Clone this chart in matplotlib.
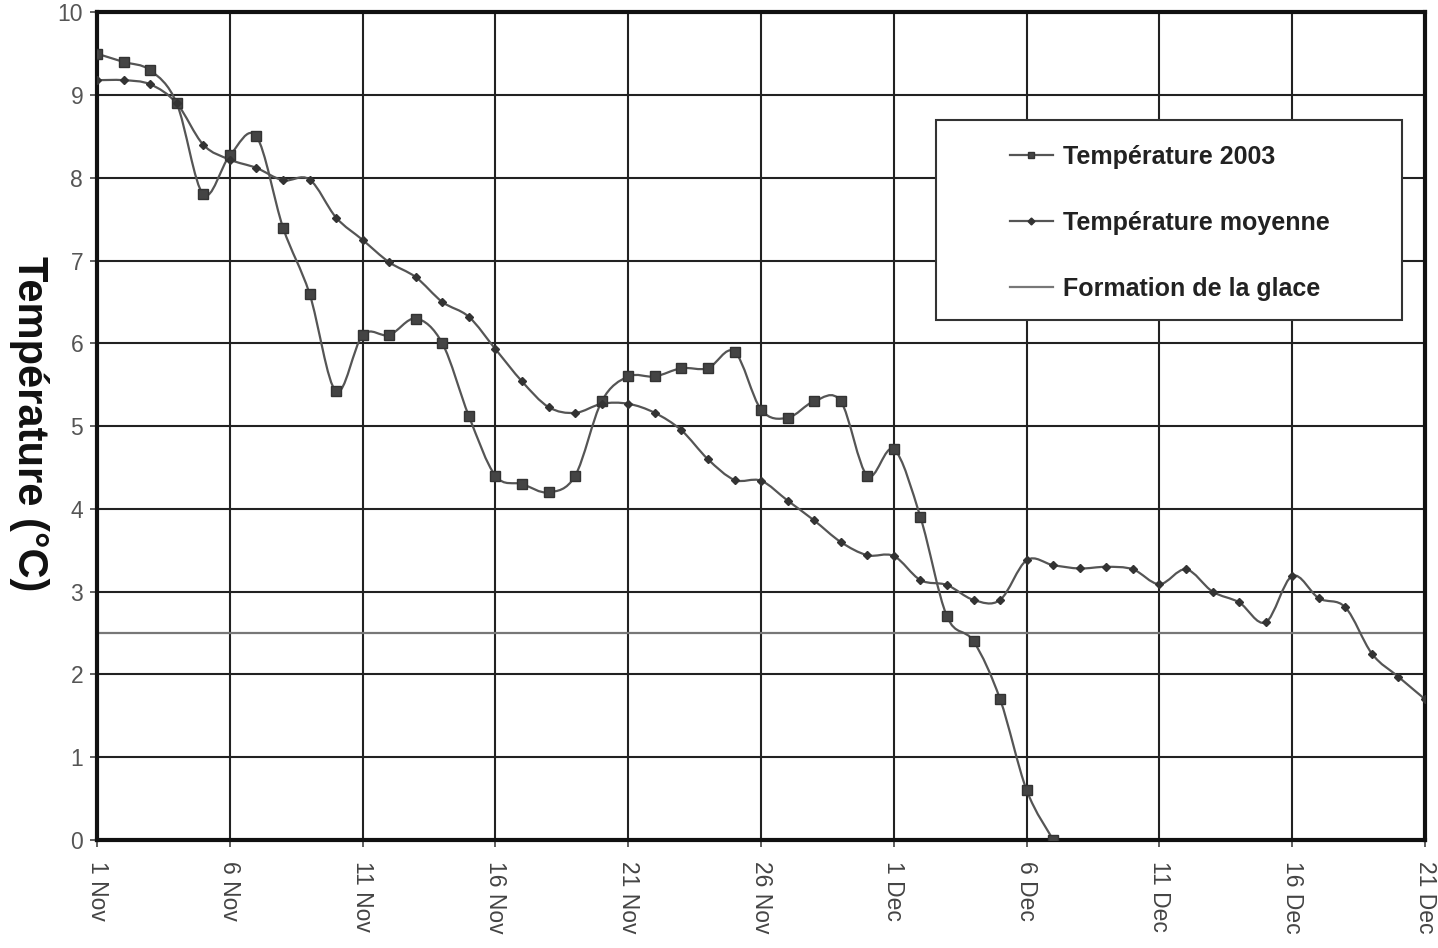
import numpy as np
import matplotlib
matplotlib.use("Agg")
import matplotlib.pyplot as plt
from matplotlib.path import Path
from matplotlib.patches import PathPatch, Rectangle
from matplotlib.lines import Line2D

# days since 1 Nov
temp_2003 = [9.5, 9.4, 9.3, 8.9, 7.8, 8.27, 8.5, 7.4, 6.6, 5.42,
             6.1, 6.1, 6.3, 6.0, 5.12, 4.4, 4.3, 4.2, 4.4, 5.3,
             5.6, 5.6, 5.7, 5.7, 5.9, 5.2, 5.1, 5.3, 5.3, 4.4,
             4.72, 3.9, 2.7, 2.4, 1.7, 0.6, 0.0]
temp_mean = [9.18, 9.18, 9.13, 8.9, 8.4, 8.22, 8.12, 7.97, 7.98, 7.52,
             7.25, 6.98, 6.8, 6.5, 6.32, 5.93, 5.54, 5.23, 5.16, 5.27,
             5.27, 5.16, 4.95, 4.6, 4.35, 4.34, 4.1, 3.86, 3.6, 3.44,
             3.43, 3.14, 3.08, 2.9, 2.9, 3.38, 3.32, 3.28, 3.3, 3.27,
             3.09, 3.27, 3.0, 2.87, 2.63, 3.19, 2.92, 2.81, 2.25, 1.97, 1.7]
glace = 2.5
tick_days = [0, 5, 10, 15, 20, 25, 30, 35, 40, 45, 50]
tick_labels = ["1 Nov", "6 Nov", "11 Nov", "16 Nov", "21 Nov", "26 Nov",
               "1 Dec", "6 Dec", "11 Dec", "16 Dec", "21 Dec"]

LINE = "#555555"
FONT = ["Liberation Sans", "DejaVu Sans"]


def smooth_path(x, y):
    # catmull-rom -> cubic bezier, like excel's smoothed lines
    p = np.column_stack([x, y]).astype(float)
    n = len(p)
    verts = [p[0]]
    codes = [Path.MOVETO]
    for i in range(n - 1):
        p0 = p[max(i - 1, 0)]
        p1 = p[i]
        p2 = p[i + 1]
        p3 = p[min(i + 2, n - 1)]
        c1 = p1 + (p2 - p0) / 6.0
        c2 = p2 - (p3 - p1) / 6.0
        verts += [c1, c2, p2]
        codes += [Path.CURVE4] * 3
    return Path(verts, codes)


fig = plt.figure(figsize=(14.38, 9.48), dpi=100)
ax = fig.add_axes([0.0675, 0.114, 0.9235, 0.873])

x1 = np.arange(len(temp_2003))
x2 = np.arange(len(temp_mean))

ax.axhline(glace, color="#777777", lw=1.6, zorder=2)
ax.add_patch(PathPatch(smooth_path(x1, temp_2003), fill=False, ec=LINE, lw=1.6, zorder=3))
ax.add_patch(PathPatch(smooth_path(x2, temp_mean), fill=False, ec=LINE, lw=1.6, zorder=3))
ax.plot(x1, temp_2003, ls="none", marker="s", ms=6.5, mfc="#444444", mec="#333333", zorder=4)
ax.plot(x2, temp_mean, ls="none", marker="D", ms=4.5, mfc="#333333", mec="#333333", zorder=4)

ax.set_xlim(0, 50)
ax.set_ylim(0, 10)
ax.set_yticks(range(0, 11))
ax.set_xticks(tick_days)
ax.set_xticklabels(tick_labels, rotation=-90, family=FONT, fontsize=16.5, color="#444444")
for lab in ax.get_yticklabels():
    lab.set_family(FONT)
    lab.set_fontsize(16.5)
    lab.set_color("#555555")
ax.tick_params(axis="both", direction="out", length=5, width=1.2, color="#444444")
ax.tick_params(axis="x", pad=10)
ax.tick_params(axis="y", pad=5)
ax.grid(True, color="#222222", lw=1.5, zorder=1)
for s in ax.spines.values():
    s.set_linewidth(3)
    s.set_color("#111111")

fig.text(0.020, 0.553, "Température (°C)", rotation=-90, ha="center", va="center",
         family=FONT, fontsize=30, fontweight="bold", color="#111111")

# legend box
ax.add_patch(Rectangle((0.632, 0.628), 0.351, 0.242, transform=ax.transAxes,
                       fc="white", ec="#333333", lw=1.5, zorder=5))
handles = [
    Line2D([], [], color=LINE, lw=1.6, marker="s", ms=5, mfc="#444444", mec="#333333"),
    Line2D([], [], color=LINE, lw=1.6, marker="D", ms=3.5, mfc="#333333", mec="#333333"),
    Line2D([], [], color="#777777", lw=1.6),
]
labels = ["Température 2003", "Température moyenne", "Formation de la glace"]
leg = ax.legend(handles, labels, loc="upper left", bbox_to_anchor=(0.6875, 0.840),
                frameon=False, borderpad=0, borderaxespad=0, handlelength=1.7,
                handletextpad=0.4, labelspacing=1.68,
                prop={"family": FONT, "size": 18, "weight": "bold"})
leg.set_zorder(6)
for t in leg.get_texts():
    t.set_color("#222222")

fig.savefig("out.png", dpi=100, facecolor="white")
